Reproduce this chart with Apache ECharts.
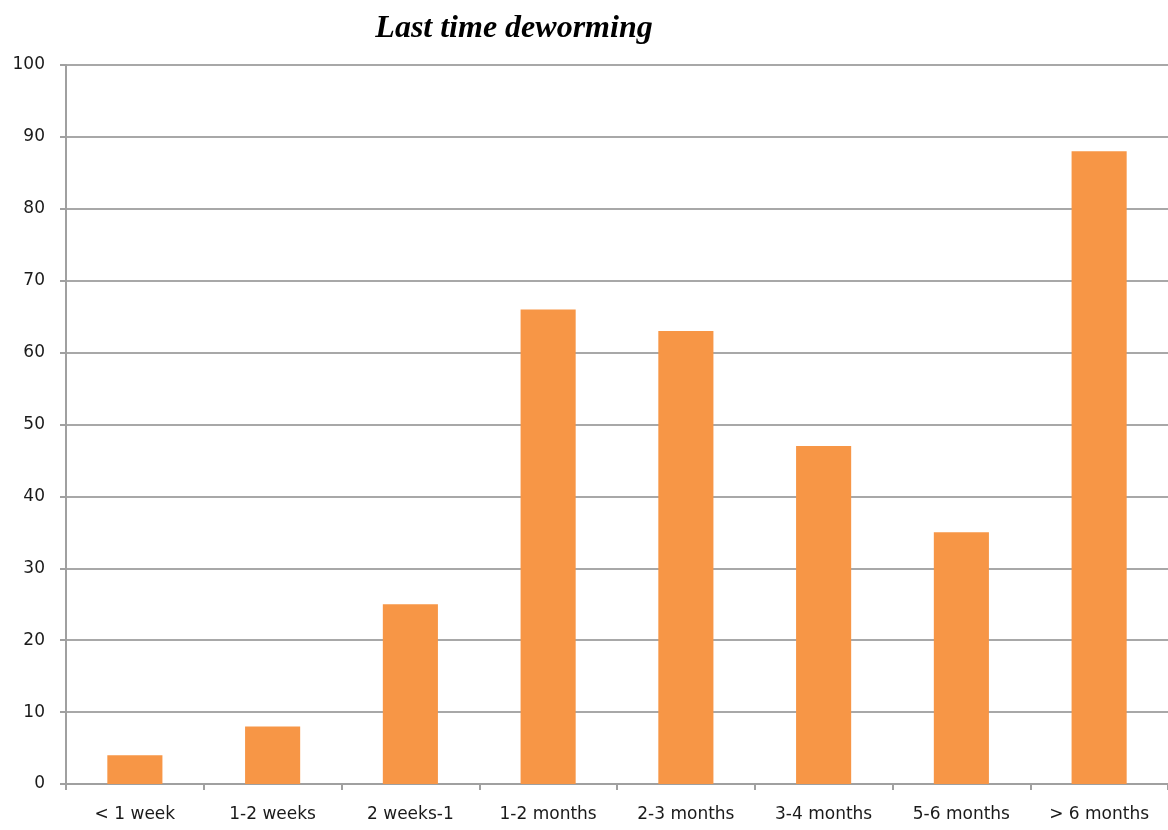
<!DOCTYPE html>
<html>
<head>
<meta charset="utf-8">
<script src="https://cdn.jsdelivr.net/npm/echarts@6/dist/echarts.min.js"></script>
<style>
  html, body { margin: 0; padding: 0; background: #fff; }
  #chart { width: 1168px; height: 830px; }
</style>
</head>
<body>
<div id="chart"></div>
<script>
// Time since last deworming, counts per interval
const categories = ['< 1 week', '1-2 weeks', '2 weeks-1', '1-2 months', '2-3 months', '3-4 months', '5-6 months', '> 6 months'];
const counts = [4, 8, 25, 66, 63, 47, 35, 88];
const yTicks = { min: 0, max: 100, interval: 10 };

const chart = echarts.init(document.getElementById('chart'));
chart.setOption({
  animation: false,
  title: {
    text: 'Last time deworming',
    left: 509,
    textAlign: 'center',
    top: 8,
    textStyle: {
      fontFamily: 'Liberation Serif',
      fontStyle: 'italic',
      fontWeight: 'bold',
      fontSize: 32,
      color: '#000'
    }
  },
  grid: { left: 66, right: 0, top: 65, bottom: 46 },
  xAxis: {
    type: 'category',
    data: categories,
    axisLine: { lineStyle: { color: '#a0a0a0', width: 2 } },
    axisTick: { show: true, length: 6, lineStyle: { color: '#a0a0a0', width: 2 } },
    axisLabel: { color: '#1a1a1a', fontFamily: 'DejaVu Sans', fontSize: 17, margin: 22 }
  },
  yAxis: {
    type: 'value',
    min: yTicks.min,
    max: yTicks.max,
    interval: yTicks.interval,
    axisLine: { show: true, lineStyle: { color: '#a0a0a0', width: 2 } },
    axisTick: { show: true, length: 6, lineStyle: { color: '#a0a0a0', width: 2 } },
    axisLabel: { color: '#1a1a1a', fontFamily: 'DejaVu Sans', fontSize: 17, margin: 21 },
    splitLine: { lineStyle: { color: '#a8a8a8', width: 2 } }
  },
  series: [{
    type: 'bar',
    data: counts,
    barWidth: '40%',
    itemStyle: { color: '#F79646' }
  }]
});
</script>
</body>
</html>
